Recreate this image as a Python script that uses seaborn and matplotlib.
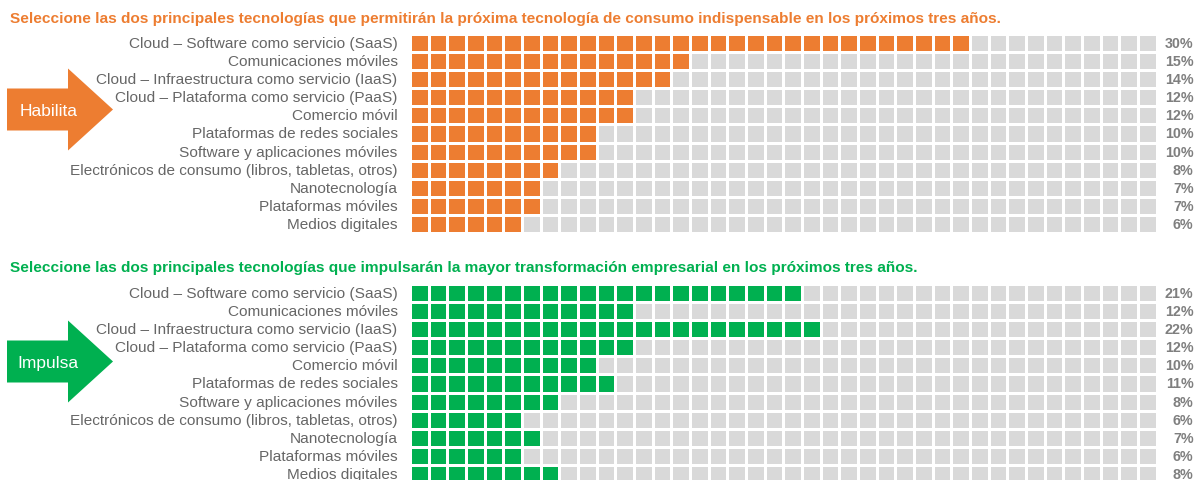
import numpy as np
import pandas as pd
import seaborn as sns
import matplotlib.pyplot as plt
from matplotlib.colors import ListedColormap
from matplotlib.patches import Polygon
import matplotlib.transforms as mtransforms

categories = [
    "Cloud – Software como servicio (SaaS)",
    "Comunicaciones móviles",
    "Cloud – Infraestructura como servicio (IaaS)",
    "Cloud – Plataforma como servicio (PaaS)",
    "Comercio móvil",
    "Plataformas de redes sociales",
    "Software y aplicaciones móviles",
    "Electrónicos de consumo (libros, tabletas, otros)",
    "Nanotecnología",
    "Plataformas móviles",
    "Medios digitales",
]
habilita = [30, 15, 14, 12, 12, 10, 10, 8, 7, 7, 6]
impulsa = [21, 12, 22, 12, 10, 11, 8, 6, 7, 6, 8]
n_cells = 40

title_top = "Seleccione las dos principales tecnologías que permitirán la próxima tecnología de consumo indispensable en los próximos tres años."
title_bottom = "Seleccione las dos principales tecnologías que impulsarán la mayor transformación empresarial en los próximos tres años."

ORANGE = "#ED7D31"
GREEN = "#00B050"
GRAY = "#D9D9D9"
TEXT = "#666666"
PCT = "#7F7F7F"

sns.set_style("white")
plt.rcParams["font.family"] = ["Liberation Sans", "DejaVu Sans"]

W, H = 1195, 481
fig = plt.figure(figsize=(W / 100, H / 100), dpi=100)


def px_axes(x0, y0, x1, y1):
    # pixel box (top-left origin) -> figure axes
    return fig.add_axes([x0 / W, 1 - y1 / H, (x1 - x0) / W, (y1 - y0) / H])


def waffle(ax, values, color):
    grid = pd.DataFrame(
        [[1 if j < v else 0 for j in range(n_cells)] for v in values],
        index=categories,
    )
    sns.heatmap(grid, ax=ax, cmap=ListedColormap([GRAY, color]), vmin=0, vmax=1,
                cbar=False, linewidths=1.9, linecolor="white",
                xticklabels=False, yticklabels=True)
    ax.tick_params(axis="y", length=0, pad=9, labelsize=11.1, labelcolor=TEXT)
    plt.setp(ax.get_yticklabels(), rotation=0)
    ax.set_ylabel("")
    trans = mtransforms.blended_transform_factory(ax.transAxes, ax.transData)
    for i, v in enumerate(values):
        ax.text(1.0496, i + 0.5, f"{v}%", transform=trans, ha="right", va="center",
                fontsize=10.3, fontweight="bold", color=PCT)


ax1 = px_axes(410, 35, 1156.5, 234)
waffle(ax1, habilita, ORANGE)
ax2 = px_axes(410, 285, 1156.5, 484)
waffle(ax2, impulsa, GREEN)

fig.text(10 / W, 1 - 19 / H, title_top, color=ORANGE, fontsize=11.1,
         fontweight="bold", va="center", ha="left")
fig.text(10 / W, 1 - 268 / H, title_bottom, color=GREEN, fontsize=11.1,
         fontweight="bold", va="center", ha="left")

# arrows
over = fig.add_axes([0, 0, 1, 1], zorder=-1)
over.set_xlim(0, W)
over.set_ylim(H, 0)
over.axis("off")
for yc, color, word, x in [(110.5, ORANGE, "Habilita", 20), (362.5, GREEN, "Impulsa", 17)]:
    pts = [(7, yc - 21), (68, yc - 21), (68, yc - 41), (113, yc), (68, yc + 41),
           (68, yc + 21), (7, yc + 21)]
    over.add_patch(Polygon(pts, closed=True, color=color, lw=0))
    over.text(x, yc + 1, word, color="white", fontsize=12.5, va="center", ha="left")

fig.savefig("out.png", dpi=100)
